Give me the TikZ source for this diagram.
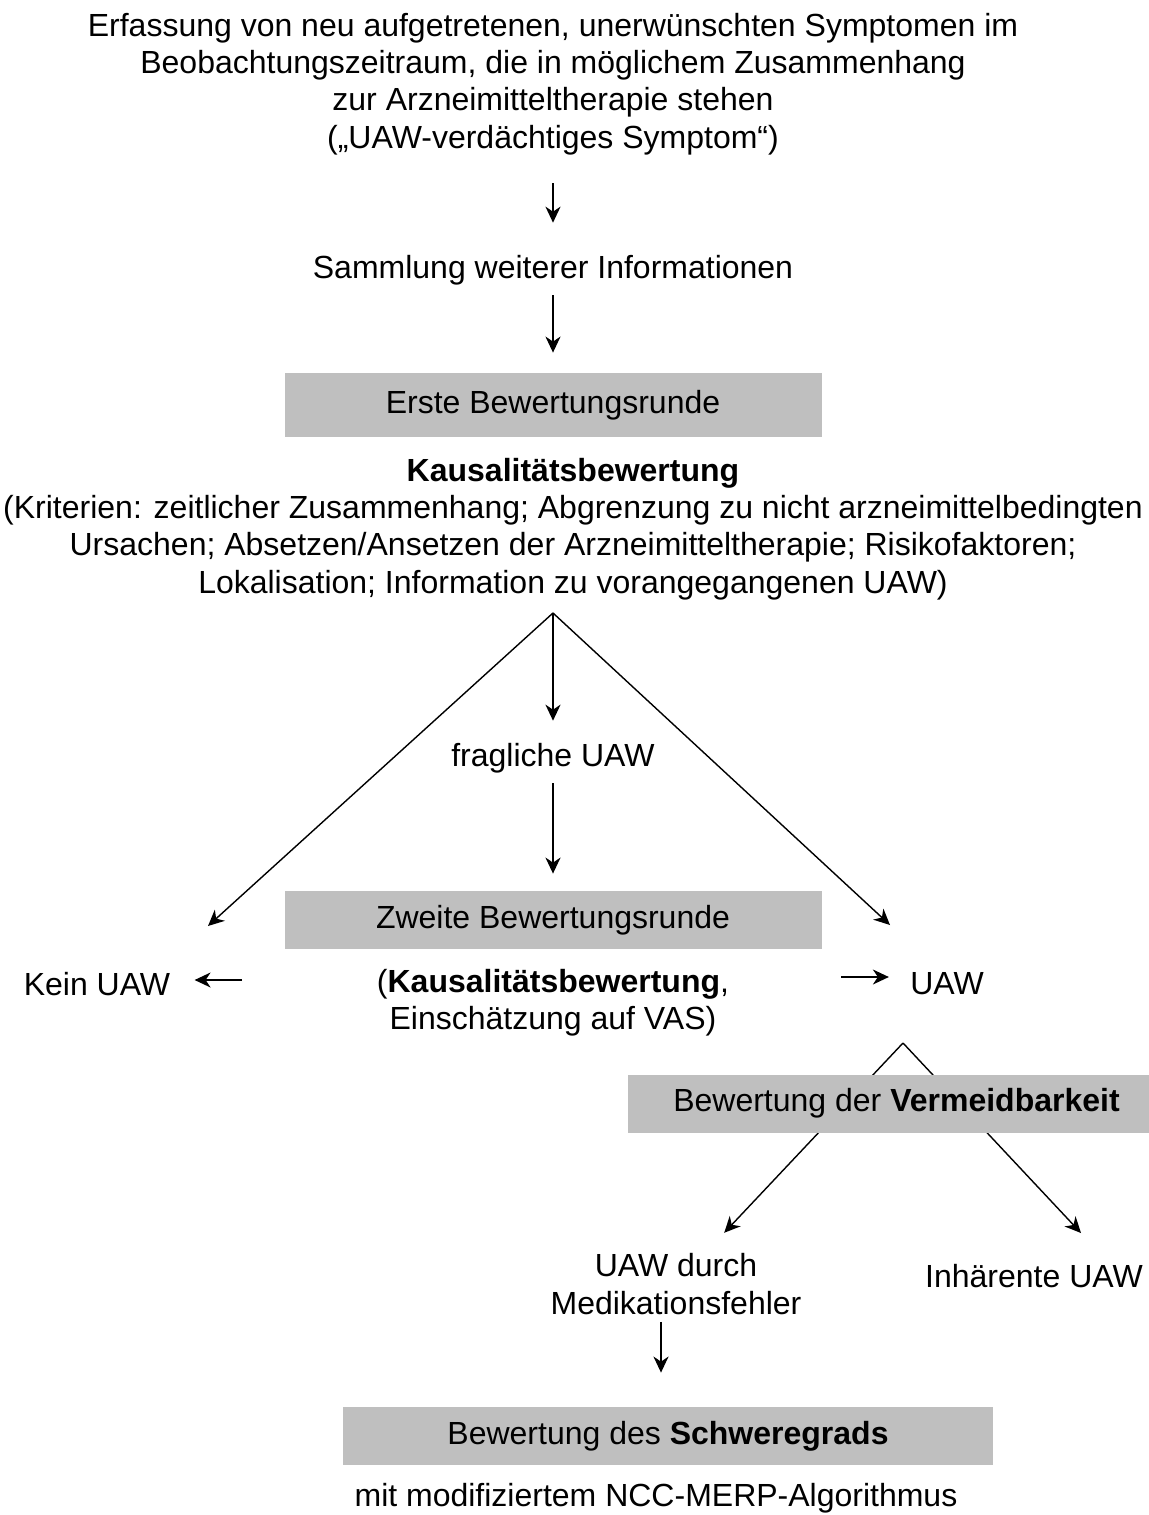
\documentclass[tikz,border=0pt]{standalone}
\usepackage{fontspec}
\setmainfont{Liberation Sans}
\usetikzlibrary{arrows.meta}
\definecolor{boxgray}{RGB}{191,191,191}

\begin{document}
\begin{tikzpicture}[x=0.5pt,y=-0.5pt,
  txt/.style={align=center,inner sep=0pt,font=\fontsize{16}{18.7}\selectfont},
  greybox/.style={txt,fill=boxgray,minimum width=268.5pt,minimum height=29pt},
  arr/.style={line width=0.9pt,-{Stealth[length=8pt,width=7.5pt,inset=2.5pt]}},
  diag/.style={arr,line width=0.7pt}]

  \useasboundingbox (0,0) rectangle (1149,1515);

  % top part
  \node [txt] at (553,84) (symptom) {Erfassung von neu aufgetretenen, unerwünschten Symptomen im\\Beobachtungszeitraum, die in möglichem Zusammenhang\\zur Arzneimitteltherapie stehen\\(„UAW-verdächtiges Symptom“)};
  \node [txt] at (553,270) (sammlung) {Sammlung weiterer Informationen};
  \node [greybox,minimum height=32pt] at (553,405) (erste) {Erste Bewertungsrunde};
  \node [txt] at (573,529) (kausal) {\textbf{Kausalitätsbewertung}\\(Kriterien: zeitlicher Zusammenhang; Abgrenzung zu nicht arzneimittelbedingten\\Ursachen; Absetzen/Ansetzen der Arzneimitteltherapie; Risikofaktoren;\\Lokalisation; Information zu vorangegangenen UAW)};

  \draw [arr,shorten <=14pt,shorten >=16pt] (symptom) -- (sammlung);
  \draw [arr,shorten <=5pt,shorten >=10pt] (sammlung) -- (erste);

  % first round splits in three
  \coordinate (split) at (553,613);
  \node [txt] at (553,758) (fraglich) {fragliche UAW};
  \node [greybox] at (553,920) (zweite) {Zweite Bewertungsrunde};
  \node [txt] at (553,1003) (zweitetxt) {(\textbf{Kausalitätsbewertung},\\Einschätzung auf VAS)};
  \node [txt] at (97,984) (kein) {Kein UAW};
  \node [txt] at (947,984) (uaw) {UAW};
  \coordinate (leftend) at (208,926);
  \coordinate (rightend) at (890,925);
  \coordinate (keinin) at (242,980);
  \coordinate (uawin) at (841,977);

  \draw [diag] (split) -- (leftend);
  \draw [diag] (split) -- (rightend);
  \draw [arr,shorten >=11pt] (split) -- (fraglich);
  \draw [arr,shorten <=5pt,shorten >=8.5pt] (fraglich) -- (zweite);
  \draw [arr,line width=0.8pt,shorten >=12pt] (keinin) -- (keinin -| kein.east);
  \draw [arr,line width=0.8pt,shorten >=10.5pt] (uawin) -- (uawin -| uaw.west);

  % avoidability
  \coordinate (split2) at (903,1043);
  \node [txt] at (676,1284) (medfehler) {UAW durch\\Medikationsfehler};
  \node [txt] at (1034,1276) (inhaerent) {Inhärente UAW};
  \coordinate (inhend) at (1081,1233);
  \draw [diag,shorten >=14pt] (split2) -- (medfehler);
  \draw [diag] (split2) -- (inhend);
  \node [greybox] at (896.5,1103.5) (vermeid) {Bewertung der \textbf{Vermeidbarkeit}};

  % severity
  \node [greybox,minimum width=325pt] at (668,1436) (schwere) {Bewertung des \textbf{Schweregrads}};
  \node [txt] at (656,1498) (algo) {mit modifiziertem NCC-MERP-Algorithmus};
  \draw [arr,shorten <=3.5pt,shorten >=17pt] ([xshift=-7.5pt]medfehler.south) -- ([xshift=-7.5pt]medfehler.south |- schwere.north);

\end{tikzpicture}
\end{document}
